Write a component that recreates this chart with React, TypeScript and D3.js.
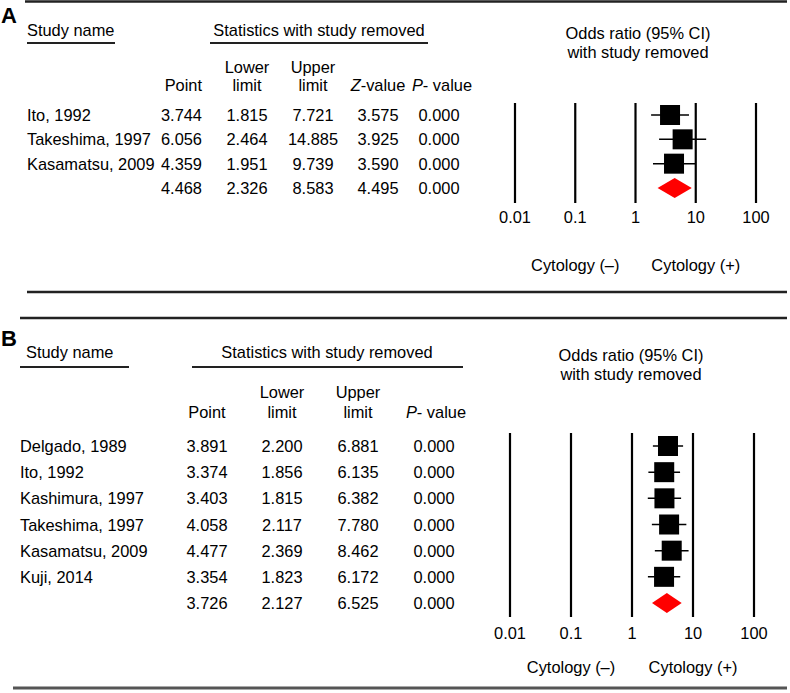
import React from "react";
import * as d3 from "d3";

// ---------- Data ----------
const ticks = [0.01, 0.1, 1, 10, 100];

const studiesA = ["Ito, 1992", "Takeshima, 1997", "Kasamatsu, 2009"];
const pointA = [3.744, 6.056, 4.359];
const lowerA = [1.815, 2.464, 1.951];
const upperA = [7.721, 14.885, 9.739];
const zA = [3.575, 3.925, 3.59];
const pA = [0.0, 0.0, 0.0];
const summaryA = [4.468, 2.326, 8.583, 4.495, 0.0]; // point, lower, upper, z, p

const studiesB = [
  "Delgado, 1989",
  "Ito, 1992",
  "Kashimura, 1997",
  "Takeshima, 1997",
  "Kasamatsu, 2009",
  "Kuji, 2014",
];
const pointB = [3.891, 3.374, 3.403, 4.058, 4.477, 3.354];
const lowerB = [2.2, 1.856, 1.815, 2.117, 2.369, 1.823];
const upperB = [6.881, 6.135, 6.382, 7.78, 8.462, 6.172];
const pB = [0.0, 0.0, 0.0, 0.0, 0.0, 0.0];
const summaryB = [3.726, 2.127, 6.525, 0.0]; // point, lower, upper, p

const FONT = "'Liberation Sans', Arial, Helvetica, sans-serif";
const FS = 16.4;
const f3 = d3.format(".3f");

type Col = { x: number; anchor: "start" | "middle" | "end" };

function Forest({
  x,
  y,
  points,
  lowers,
  uppers,
  sum,
  lineTop,
  lineBottom,
  tickY,
  cytoY,
  headerX,
  headerY,
}: {
  x: d3.ScaleLogarithmic<number, number>;
  y: d3.ScalePoint<string>;
  points: number[];
  lowers: number[];
  uppers: number[];
  sum: number[];
  lineTop: number;
  lineBottom: number;
  tickY: number;
  cytoY: number;
  headerX: number;
  headerY: number;
}) {
  const keys = y.domain();
  const sq = 20;
  const sy = y(keys[keys.length - 1])!;
  const diamond = [
    [x(sum[1]), sy],
    [x(sum[0]), sy - 10],
    [x(sum[2]), sy],
    [x(sum[0]), sy + 10],
  ];
  return (
    <g fontFamily={FONT} fontSize={FS}>
      <text x={headerX} y={headerY} textAnchor="middle">
        Odds ratio (95% CI)
      </text>
      <text x={headerX} y={headerY + 19} textAnchor="middle">
        with study removed
      </text>
      {ticks.map((t) => (
        <g key={t}>
          <line
            x1={x(t)}
            x2={x(t)}
            y1={lineTop}
            y2={lineBottom}
            stroke="#000"
            strokeWidth={2.2}
          />
          <text x={x(t)} y={tickY} textAnchor="middle">
            {String(t)}
          </text>
        </g>
      ))}
      {points.map((p, i) => {
        const cy = y(keys[i])!;
        return (
          <g key={i}>
            <line
              x1={x(lowers[i])}
              x2={x(uppers[i])}
              y1={cy}
              y2={cy}
              stroke="#000"
              strokeWidth={1.5}
            />
            <rect
              x={x(p) - sq / 2}
              y={cy - sq / 2}
              width={sq}
              height={sq}
              fill="#000"
            />
          </g>
        );
      })}
      <polygon
        points={diamond.map((d) => d.join(",")).join(" ")}
        fill="#ff0000"
      />
      <text x={x(0.1)} y={cytoY} textAnchor="middle">
        Cytology (–)
      </text>
      <text x={x(10)} y={cytoY} textAnchor="middle">
        Cytology (+)
      </text>
    </g>
  );
}

function Cell({ col, y, children, italic }: any) {
  return (
    <text x={col.x} y={y} textAnchor={col.anchor} fontStyle={italic ? "italic" : undefined}>
      {children}
    </text>
  );
}

export default function App() {
  // ----- Panel A -----
  const keysA = [...studiesA, "summary"];
  const yA = d3.scalePoint<string>().domain(keysA).range([115, 188]);
  const xA = d3.scaleLog().domain([0.01, 100]).range([515, 756]);
  const colsA: Col[] = [
    { x: 27, anchor: "start" },
    { x: 202, anchor: "end" },
    { x: 247, anchor: "middle" },
    { x: 313, anchor: "middle" },
    { x: 378, anchor: "middle" },
    { x: 439, anchor: "middle" },
  ];

  // ----- Panel B -----
  const keysB = [...studiesB, "summary"];
  const yB = d3.scalePoint<string>().domain(keysB).range([446, 603]);
  const xB = d3.scaleLog().domain([0.01, 100]).range([510, 754]);
  const colsB: Col[] = [
    { x: 20, anchor: "start" },
    { x: 207, anchor: "middle" },
    { x: 282, anchor: "middle" },
    { x: 358, anchor: "middle" },
    { x: 434, anchor: "middle" },
  ];

  const bl = 6; // baseline offset from row centre

  return (
    <svg
      width={790}
      height={693}
      style={{ position: "absolute", left: 0, top: 0, background: "#fff" }}
      fontFamily={FONT}
      fontSize={FS}
    >
      <rect width={790} height={693} fill="#fff" />
      {/* separators */}
      <line x1={25} x2={787} y1={1.5} y2={1.5} stroke="#222" strokeWidth={2.5} />
      <line x1={27} x2={787} y1={292} y2={292} stroke="#222" strokeWidth={2.5} />
      <line x1={20} x2={787} y1={318} y2={318} stroke="#222" strokeWidth={2.5} />
      <line x1={13} x2={787} y1={688} y2={688} stroke="#555" strokeWidth={3} />

      {/* ===== Panel A ===== */}
      <text x={1} y={23} fontWeight="bold" fontSize={22}>
        A
      </text>
      <text x={27} y={36}>Study name</text>
      <line x1={27} x2={115} y1={43} y2={43} stroke="#222" strokeWidth={1.8} />
      <text x={319} y={36} textAnchor="middle">
        Statistics with study removed
      </text>
      <line x1={210} x2={428} y1={43} y2={43} stroke="#222" strokeWidth={1.8} />
      <Cell col={colsA[2]} y={73}>Lower</Cell>
      <Cell col={colsA[3]} y={73}>Upper</Cell>
      <Cell col={colsA[1]} y={91}>Point</Cell>
      <Cell col={colsA[2]} y={91}>limit</Cell>
      <Cell col={colsA[3]} y={91}>limit</Cell>
      <text x={colsA[4].x} y={91} textAnchor="middle">
        <tspan fontStyle="italic">Z</tspan>-value
      </text>
      <text x={colsA[5].x + 3} y={91} textAnchor="middle">
        <tspan fontStyle="italic">P</tspan>- value
      </text>
      {studiesA.map((s, i) => {
        const yy = yA(s)! + bl;
        return (
          <g key={s}>
            <Cell col={colsA[0]} y={yy}>{s}</Cell>
            <Cell col={colsA[1]} y={yy}>{f3(pointA[i])}</Cell>
            <Cell col={colsA[2]} y={yy}>{f3(lowerA[i])}</Cell>
            <Cell col={colsA[3]} y={yy}>{f3(upperA[i])}</Cell>
            <Cell col={colsA[4]} y={yy}>{f3(zA[i])}</Cell>
            <Cell col={colsA[5]} y={yy}>{f3(pA[i])}</Cell>
          </g>
        );
      })}
      {(() => {
        const yy = yA("summary")! + bl;
        return (
          <g>
            {summaryA.map((v, j) => (
              <Cell key={j} col={colsA[j + 1]} y={yy}>
                {f3(v)}
              </Cell>
            ))}
          </g>
        );
      })()}
      <Forest
        x={xA}
        y={yA}
        points={pointA}
        lowers={lowerA}
        uppers={upperA}
        sum={summaryA}
        lineTop={103}
        lineBottom={203}
        tickY={223}
        cytoY={271}
        headerX={638}
        headerY={39}
      />

      {/* ===== Panel B ===== */}
      <text x={1} y={346} fontWeight="bold" fontSize={22}>
        B
      </text>
      <text x={26} y={358}>Study name</text>
      <line x1={20} x2={129} y1={367} y2={367} stroke="#222" strokeWidth={1.8} />
      <text x={327} y={358} textAnchor="middle">
        Statistics with study removed
      </text>
      <line x1={192} x2={463} y1={367} y2={367} stroke="#222" strokeWidth={1.8} />
      <Cell col={colsB[2]} y={398}>Lower</Cell>
      <Cell col={colsB[3]} y={398}>Upper</Cell>
      <Cell col={colsB[1]} y={418}>Point</Cell>
      <Cell col={colsB[2]} y={418}>limit</Cell>
      <Cell col={colsB[3]} y={418}>limit</Cell>
      <text x={colsB[4].x + 2} y={418} textAnchor="middle">
        <tspan fontStyle="italic">P</tspan>- value
      </text>
      {studiesB.map((s, i) => {
        const yy = yB(s)! + bl;
        return (
          <g key={s}>
            <Cell col={colsB[0]} y={yy}>{s}</Cell>
            <Cell col={colsB[1]} y={yy}>{f3(pointB[i])}</Cell>
            <Cell col={colsB[2]} y={yy}>{f3(lowerB[i])}</Cell>
            <Cell col={colsB[3]} y={yy}>{f3(upperB[i])}</Cell>
            <Cell col={colsB[4]} y={yy}>{f3(pB[i])}</Cell>
          </g>
        );
      })}
      {(() => {
        const yy = yB("summary")! + bl;
        return (
          <g>
            {summaryB.map((v, j) => (
              <Cell key={j} col={colsB[j + 1]} y={yy}>
                {f3(v)}
              </Cell>
            ))}
          </g>
        );
      })()}
      <Forest
        x={xB}
        y={yB}
        points={pointB}
        lowers={lowerB}
        uppers={upperB}
        sum={summaryB}
        lineTop={433}
        lineBottom={617}
        tickY={639}
        cytoY={673}
        headerX={631}
        headerY={361}
      />
    </svg>
  );
}
